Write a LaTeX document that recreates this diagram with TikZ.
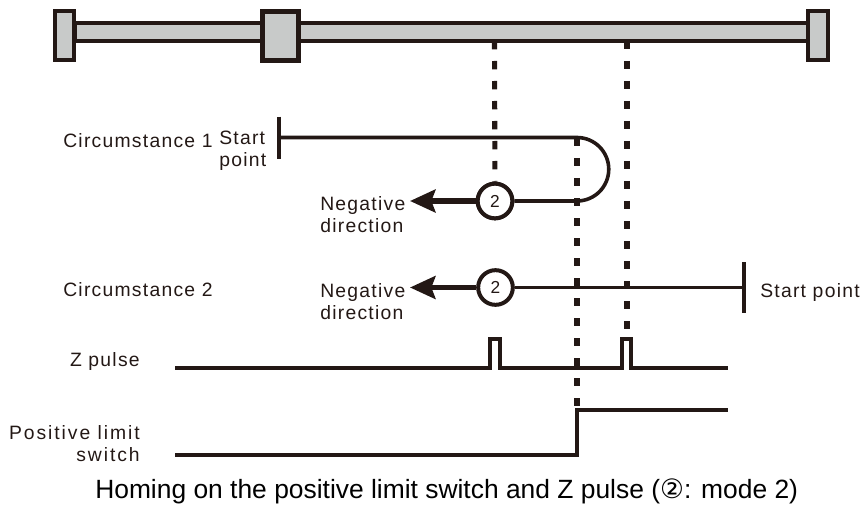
\documentclass[tikz,border=0pt]{standalone}
\usepackage{fontspec}
\setmainfont{Liberation Sans}
\newfontfamily\labelfont[LetterSpace=6.5]{Liberation Sans}
\newfontfamily\widelabelfont[LetterSpace=10]{Liberation Sans}
\newfontfamily\circfont{DejaVu Sans}
\usetikzlibrary{arrows.meta}
\definecolor{inkdark}{HTML}{231815}
\definecolor{railgray}{HTML}{C8CAC9}
\tikzset{
    railpart/.style={draw=inkdark, fill=railgray, line width=3pt},
    guide/.style={draw=inkdark, line width=3.8pt, dash pattern=on 6.2pt off 8.8pt},
    track/.style={draw=inkdark, line width=2.7pt},
    signal/.style={draw=inkdark, line width=3pt},
    modemark/.style={circle, draw=inkdark, fill=white, line width=3pt, minimum size=26pt, inner sep=0pt, font=\fontsize{13}{13}\selectfont, text=inkdark},
    lbl/.style={font=\labelfont\fontsize{14.5}{16.5}\selectfont, text=inkdark, inner sep=0pt, align=left},
    towardarrow/.style={draw=inkdark, line width=4.4pt, -{Stealth[length=19pt,width=17pt,inset=3pt]}}
}
\begin{document}
\begin{tikzpicture}[x=0.75pt,y=-0.75pt]
    \useasboundingbox (0,0) rectangle (867,506);
    % rail with its two end stops and the slider
    \draw[railpart] (75,22.7) rectangle (808,40.7);
    \draw[railpart] (54.5,11) rectangle (74,60);
    \draw[railpart, line width=3.4pt] (262.5,11.5) rectangle (298.5,60.5);
    \draw[railpart] (807.5,11) rectangle (827.5,60);
    % the dashed guides
    \coordinate (guidea) at (494.5,41);
    \coordinate (guideb) at (627,41);
    \coordinate (guidec) at (577,138);
    \node[modemark] (markone) at (495,201) {2};
    \draw[guide] (guidea) -- (markone);
    \draw[guide] (guideb) -- (627,331);
    \draw[guide] (guidec) -- (577,410);
    % circumstance 1
    \coordinate (startone) at (279.3,137.5);
    \coordinate (tipone) at (410,201);
    \draw[track, line width=3pt] (279.3,116.7) -- (279.3,159);
    \draw[track] (startone) -- (577,137.5) arc[start angle=-90, end angle=90, radius=31.75] -- (markone);
    \node[modemark] at (markone) {2};
    \draw[towardarrow] (markone) -- (tipone);
    % circumstance 2
    \coordinate (starttwo) at (744,287.5);
    \node[modemark] (marktwo) at (495.5,287.5) {2};
    \coordinate (tiptwo) at (410,287.5);
    \draw[track] (starttwo) -- (marktwo);
    \draw[track, line width=3pt] (744,262.3) -- (744,313);
    \draw[towardarrow] (marktwo) -- (tiptwo);
    % Z pulse and limit switch signals
    \draw[signal] (175,368) -- (490.3,368) -- (490.3,339) -- (499.7,339) -- (499.7,368) -- (622,368) -- (622,339) -- (631,339) -- (631,368) -- (728,368);
    \draw[signal] (175,454.7) -- (577,454.7) -- (577,409.7) -- (728,409.7);
    % labels
    \node[lbl, anchor=base west] (circone) at (63,148) {Circumstance 1};
    \node[lbl, anchor=north west] (startlbl) at (219,131) {Start\\point};
    \node[lbl, anchor=north west] (negone) at (320,196) {Negative\\direction};
    \node[lbl, anchor=base west] (circtwo) at (63,296) {Circumstance 2};
    \node[lbl, anchor=north west] (negtwo) at (320,283.5) {Negative\\direction};
    \node[lbl, anchor=base west] (starttwolbl) at (760,297) {Start point};
    \node[lbl, anchor=base east] (zlbl) at (140,366) {Z pulse};
    \node[lbl, font=\widelabelfont\fontsize{14.5}{16.5}\selectfont, anchor=north east, align=right] (limitlbl) at (140,425) {Positive limit\\switch};
    \node[anchor=base west, inner sep=0pt, text=black, font=\fontsize{19.8}{22}\selectfont] (caption) at (95,498.5) {Homing on the positive limit switch and Z pulse ({\circfont\fontsize{20}{22}\selectfont ②}: mode 2)};
\end{tikzpicture}
\end{document}
